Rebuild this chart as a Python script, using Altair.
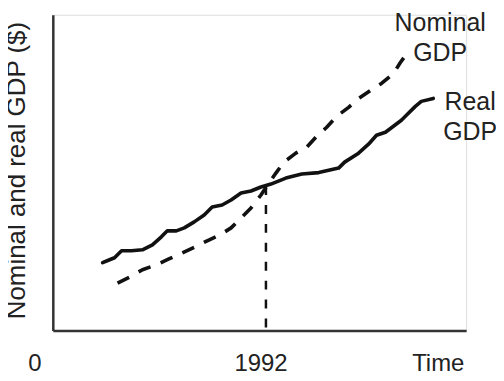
import altair as alt
import pandas as pd

# Real GDP (solid), arbitrary units: time vs dollars
real_t = [50, 57, 62, 69, 79, 90, 100, 109, 115, 124, 132, 142, 152, 160, 170, 179, 189, 199,
          209, 219, 234, 250, 267, 287, 293, 307, 317, 325, 334, 342, 350, 355, 364, 370, 382]
real_v = [68, 71, 73, 80, 80, 81, 86, 94, 100, 100, 103, 109, 116, 124, 126, 131, 138, 140,
          144, 147, 153, 157, 158.5, 163, 169, 178, 187, 196, 199, 205, 211, 216, 225, 230, 233]

# Nominal GDP (dashed)
nom_t = [65, 77, 90, 104, 116, 129, 142, 155, 168, 179, 190, 199, 209, 215, 224, 232, 244,
         255, 265, 275, 285, 297, 307, 319, 330, 342, 349, 354]
nom_v = [47.5, 53.5, 61, 66, 71.5, 77.5, 83.5, 90, 96, 103, 114, 123, 136, 145, 158, 169, 178,
         184, 195, 204, 215, 224, 233, 241, 248, 258, 269, 276]

# 1992 reference line
ref_t = [214, 214]
ref_v = [3, 146]

# Bottom labels
bottom_text = ["0", "1992", "Time"]
bottom_t = [-18, 209, 387]
bottom_v = [-41, -41, -41]

# Series labels
series_text = ["Nominal", "GDP", "Real", "GDP"]
series_t = [389, 389, 419, 419]
series_v = [301, 271, 221, 191]

X_DOMAIN = [0, 415]
Y_DOMAIN = [0, 317]

xs = alt.Scale(domain=X_DOMAIN, nice=False, zero=False)
ys = alt.Scale(domain=Y_DOMAIN, nice=False, zero=False)

real_df = pd.DataFrame({"t": real_t, "v": real_v})
nom_df = pd.DataFrame({"t": nom_t, "v": nom_v})
ref_df = pd.DataFrame({"t": ref_t, "v": ref_v})
bot_df = pd.DataFrame({"text": bottom_text, "t": bottom_t, "v": bottom_v})
ser_df = pd.DataFrame({"text": series_text, "t": series_t, "v": series_v})

xaxis = alt.Axis(domain=True, ticks=False, labels=False, grid=False, title=None,
                 domainColor="#333333", domainWidth=2.5)
yaxis = alt.Axis(domain=True, ticks=False, labels=False, grid=False,
                 title="Nominal and real GDP ($)", titleFont="Liberation Sans",
                 titleFontSize=26, titleFontWeight="normal", titleColor="#222222",
                 titleBaseline="alphabetic", titlePadding=28, titleY=156,
                 domainColor="#333333", domainWidth=2.5)

base_axes = alt.Chart(real_df).mark_line(strokeWidth=0, opacity=0).encode(
    x=alt.X("t:Q", scale=xs, axis=xaxis),
    y=alt.Y("v:Q", scale=ys, axis=yaxis),
)

real_line = alt.Chart(real_df).mark_line(
    color="#111111", strokeWidth=3.6, strokeCap="round", strokeJoin="round"
).encode(x=alt.X("t:Q", scale=xs), y=alt.Y("v:Q", scale=ys))

nom_line = alt.Chart(nom_df).mark_line(
    color="#111111", strokeWidth=3.6, strokeDash=[13, 11], strokeCap="butt", strokeJoin="round"
).encode(x=alt.X("t:Q", scale=xs), y=alt.Y("v:Q", scale=ys))

ref_line = alt.Chart(ref_df).mark_line(
    color="#111111", strokeWidth=2.5, strokeDash=[9, 10]
).encode(x=alt.X("t:Q", scale=xs), y=alt.Y("v:Q", scale=ys))

bottom_labels = alt.Chart(bot_df).mark_text(
    font="Liberation Sans", fontSize=24, color="#222222", align="center", baseline="alphabetic"
).encode(x=alt.X("t:Q", scale=xs), y=alt.Y("v:Q", scale=ys), text="text:N")

series_labels = alt.Chart(ser_df).mark_text(
    font="Liberation Sans", fontSize=25, color="#222222", align="center", baseline="alphabetic"
).encode(x=alt.X("t:Q", scale=xs), y=alt.Y("v:Q", scale=ys), text="text:N")

chart = alt.layer(base_axes, ref_line, nom_line, real_line, bottom_labels, series_labels).properties(
    width=415, height=317,
    autosize=alt.AutoSizeParams(type="none"),
    padding={"left": 45, "top": 6, "right": 30, "bottom": 50},
).configure_view(stroke=None).configure(background="white")

chart.save("out.html", embed_options={"renderer": "svg", "actions": False})
